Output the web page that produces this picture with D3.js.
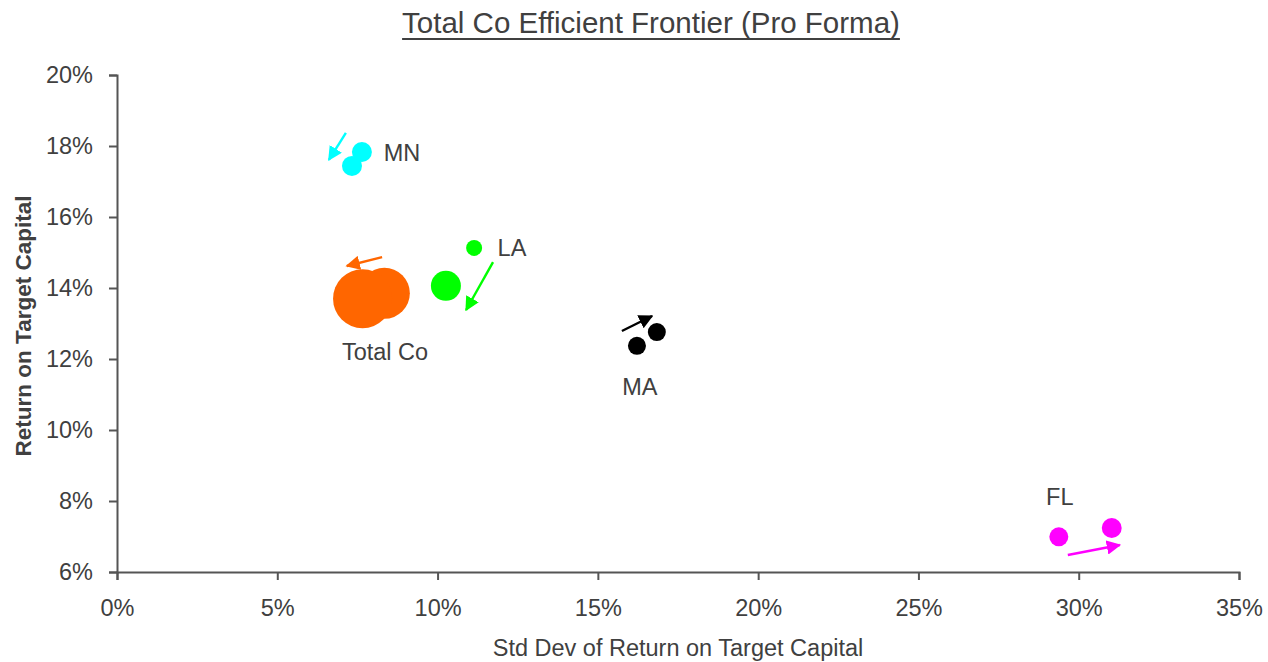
<!DOCTYPE html>
<html>
<head>
<meta charset="utf-8">
<script src="https://cdn.jsdelivr.net/npm/d3@7"></script>
<style>
  body { margin: 0; background: #fff; }
  text { font-family: "Liberation Sans", Arial, sans-serif; fill: #404040; }
</style>
</head>
<body>
<div id="chart"></div>
<script>
// segments and their before/after points (std dev %, return %, capital size)
var segments = ["MN", "LA", "Total Co", "MA", "FL"]
var colors = ["#00ffff", "#00ff00", "#ff6600", "#000000", "#ff00ff"]
var stdDev = [[7.64, 7.33], [11.14, 10.26], [8.34, 7.66], [16.84, 16.22], [29.38, 31.03]]
var returns = [[17.83, 17.44], [15.13, 14.06], [13.85, 13.70], [12.76, 12.37], [6.99, 7.24]]
var capital = [[111, 111], [71, 250], [722, 967], [90, 90], [100, 110]]
// shift arrows [x1, y1, x2, y2] in data units
var arrows = [[7.14, 18.37, 6.61, 17.61], [11.73, 14.73, 10.89, 13.38], [8.27, 14.87, 7.17, 14.62],
              [15.75, 12.79, 16.69, 13.21], [29.66, 6.48, 31.28, 6.76]]
var labelPos = [[8.89, 17.80], [12.32, 15.13], [8.36, 12.20], [16.31, 11.21], [29.41, 8.11]]
var xTicks = [0, 5, 10, 15, 20, 25, 30, 35]
var yTicks = [6, 8, 10, 12, 14, 16, 18, 20]

var width = 1268, height = 662
var margin = {left: 117, right: 29, top: 75, bottom: 90}

var svg = d3.select("#chart").append("svg")
svg.attr("width", width).attr("height", height)

var x = d3.scaleLinear().domain([0, 35]).range([margin.left, width - margin.right])
var y = d3.scaleLinear().domain([6, 20]).range([height - margin.bottom, margin.top])
var r = d3.scaleSqrt().domain([0, 1000]).range([0, 30])

var xAxis = svg.append("g")
  .attr("transform", "translate(0," + y(6) + ")")
  .call(d3.axisBottom(x).tickValues(xTicks).tickSize(8).tickPadding(19).tickFormat(function(d) { return d + "%" }))
var yAxis = svg.append("g")
  .attr("transform", "translate(" + x(0) + ",0)")
  .call(d3.axisLeft(y).tickValues(yTicks).tickSize(8).tickPadding(16).tickFormat(function(d) { return d + "%" }))

svg.selectAll(".domain, .tick line").attr("stroke", "#555").attr("stroke-width", 2)
svg.selectAll(".tick text").attr("font-size", 23.5).attr("fill", "#404040")
  .attr("font-family", "Liberation Sans, Arial, sans-serif")

// title
var title = svg.append("text")
  .attr("x", 651).attr("y", 33)
  .attr("text-anchor", "middle")
  .attr("font-size", 29.5)
  .text("Total Co Efficient Frontier (Pro Forma)")
var tb = title.node().getBBox()
svg.append("line")
  .attr("x1", tb.x).attr("x2", tb.x + tb.width)
  .attr("y1", 39).attr("y2", 39)
  .attr("stroke", "#404040").attr("stroke-width", 2)

svg.append("text")
  .attr("x", (x(0) + x(35)) / 2 + 0).attr("y", 656)
  .attr("text-anchor", "middle")
  .attr("font-size", 23.5)
  .text("Std Dev of Return on Target Capital")
svg.append("text")
  .attr("transform", "translate(31,326) rotate(-90)")
  .attr("text-anchor", "middle")
  .attr("font-size", 22.5)
  .attr("font-weight", "bold")
  .text("Return on Target Capital")

// arrowheads
var defs = svg.append("defs")
colors.forEach(function(c, i) {
  defs.append("marker")
    .attr("id", "arrow" + i)
    .attr("viewBox", "0 0 10 10")
    .attr("refX", 9).attr("refY", 5)
    .attr("markerWidth", 6).attr("markerHeight", 6)
    .attr("markerUnits", "strokeWidth")
    .attr("orient", "auto")
    .append("path")
    .attr("d", "M0,0 L10,5 L0,10 Z")
    .attr("fill", c)
})

var points = []
segments.forEach(function(s, i) {
  for (var j = 0; j < 2; j++) {
    points.push({seg: i, sx: stdDev[i][j], ret: returns[i][j], cap: capital[i][j]})
  }
})

svg.selectAll("circle.pt")
  .data(points)
  .enter()
  .append("circle")
  .attr("class", "pt")
  .attr("cx", function(d) { return x(d.sx) })
  .attr("cy", function(d) { return y(d.ret) })
  .attr("r", function(d) { return r(d.cap) })
  .attr("fill", function(d) { return colors[d.seg] })

svg.selectAll("line.arrow")
  .data(arrows)
  .enter()
  .append("line")
  .attr("class", "arrow")
  .attr("x1", function(d) { return x(d[0]) })
  .attr("y1", function(d) { return y(d[1]) })
  .attr("x2", function(d) { return x(d[2]) })
  .attr("y2", function(d) { return y(d[3]) })
  .attr("stroke", function(d, i) { return colors[i] })
  .attr("stroke-width", 2.4)
  .attr("marker-end", function(d, i) { return "url(#arrow" + i + ")" })

svg.selectAll("text.lbl")
  .data(labelPos)
  .enter()
  .append("text")
  .attr("class", "lbl")
  .attr("x", function(d) { return x(d[0]) })
  .attr("y", function(d) { return y(d[1]) })
  .attr("dy", "0.35em")
  .attr("text-anchor", "middle")
  .attr("font-size", 23.5)
  .text(function(d, i) { return segments[i] })
</script>
</body>
</html>
